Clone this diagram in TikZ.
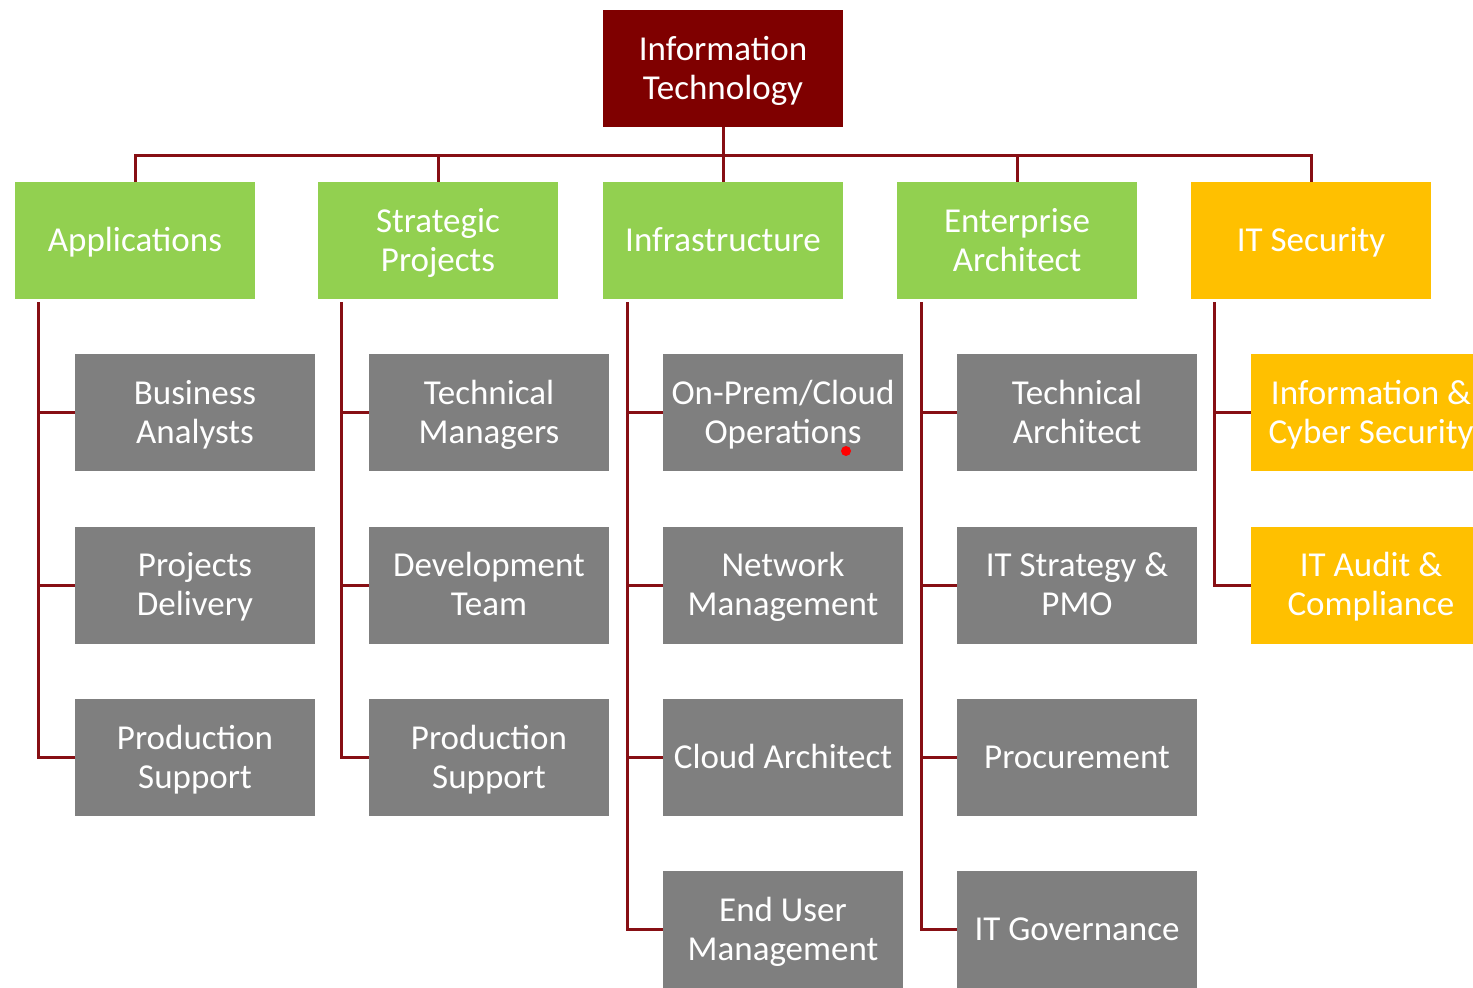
\documentclass[tikz,border=0pt]{standalone}
\usepackage{fontspec}
\setmainfont{Carlito}
\definecolor{topred}{RGB}{127,0,0}
\definecolor{linered}{RGB}{135,15,20}
\definecolor{unitgreen}{RGB}{146,208,80}
\definecolor{teamgray}{RGB}{127,127,127}
\definecolor{secgold}{RGB}{255,192,0}
\begin{document}
\begin{tikzpicture}[x=1pt,y=-1pt,
  box/.style={rectangle, draw=none, inner sep=0pt, minimum width=240pt, minimum height=117pt,
    text=white, align=center, font=\fontsize{35}{39}\selectfont,
    text height=28pt, text depth=6pt},
  two/.style={text height=67pt, text depth=6pt},
  headbox/.style={box, fill=topred},
  unitbox/.style={box, fill=unitgreen},
  teambox/.style={box, fill=teamgray},
  secbox/.style={box, fill=secgold},
  conn/.style={draw=linered, line width=3pt}]
\useasboundingbox (0,0) rectangle (1473,988);
\clip (0,0) rectangle (1473,988);

% top of the organisation
\node[headbox,two] (it) at (723,68.5) {Information\\Technology};

% departments
\node[unitbox]     (app)   at (135,240.5)  {Applications};
\node[unitbox,two] (strat) at (438,240.5)  {Strategic\\Projects};
\node[unitbox]     (infra) at (723,240.5)  {Infrastructure};
\node[unitbox,two] (ent)   at (1017,240.5) {Enterprise\\Architect};
\node[secbox]      (sec)   at (1311,240.5) {IT Security};

% Applications teams
\node[teambox,two] (ba)  at (195,412.5) {Business\\Analysts};
\node[teambox,two] (pd)  at (195,585)   {Projects\\Delivery};
\node[teambox,two] (ps1) at (195,757.5) {Production\\Support};

% Strategic Projects teams
\node[teambox,two] (tm)  at (489,412.5) {Technical\\Managers};
\node[teambox,two] (dt)  at (489,585)   {Development\\Team};
\node[teambox,two] (ps2) at (489,757.5) {Production\\Support};

% Infrastructure teams
\node[teambox,two] (ops) at (783,412.5) {On-Prem/Cloud\\Operations};
\node[teambox,two] (nm)  at (783,585)   {Network\\Management};
\node[teambox]     (ca)  at (783,757.5) {Cloud Architect};
\node[teambox,two] (eu)  at (783,929.5) {End User\\Management};

% Enterprise Architect teams
\node[teambox,two] (ta)  at (1077,412.5) {Technical\\Architect};
\node[teambox,two] (pmo) at (1077,585)   {IT Strategy \&\\PMO};
\node[teambox]     (pro) at (1077,757.5) {Procurement};
\node[teambox]     (gov) at (1077,929.5) {IT Governance};

% IT Security teams
\node[secbox,two] (ics) at (1371,412.5) {Information \&\\Cyber Security};
\node[secbox,two] (aud) at (1371,585)   {IT Audit \&\\Compliance};

% bus from the top box to the departments
\coordinate (bus) at (723,155);
\draw[conn] (it.south) -- (bus);
\draw[conn] (app.north) |- (bus) -| (sec.north);
\draw[conn] (strat.north) -- (strat.north |- bus);
\draw[conn] (infra.north) -- (infra.north |- bus);
\draw[conn] (ent.north) -- (ent.north |- bus);

% trunks down the left side of each column
\coordinate (appT)   at (38,302);
\coordinate (stratT) at (341,302);
\coordinate (infraT) at (627,302);
\coordinate (entT)   at (921,302);
\coordinate (secT)   at (1214,302);

\foreach \t in {ba,pd,ps1} \draw[conn] (appT) |- (\t.west);
\foreach \t in {tm,dt,ps2} \draw[conn] (stratT) |- (\t.west);
\foreach \t in {ops,nm,ca,eu} \draw[conn] (infraT) |- (\t.west);
\foreach \t in {ta,pmo,pro,gov} \draw[conn] (entT) |- (\t.west);
\foreach \t in {ics,aud} \draw[conn] (secT) |- (\t.west);

% small red dot
\fill[red] (846,451) circle (5pt);
\end{tikzpicture}
\end{document}
